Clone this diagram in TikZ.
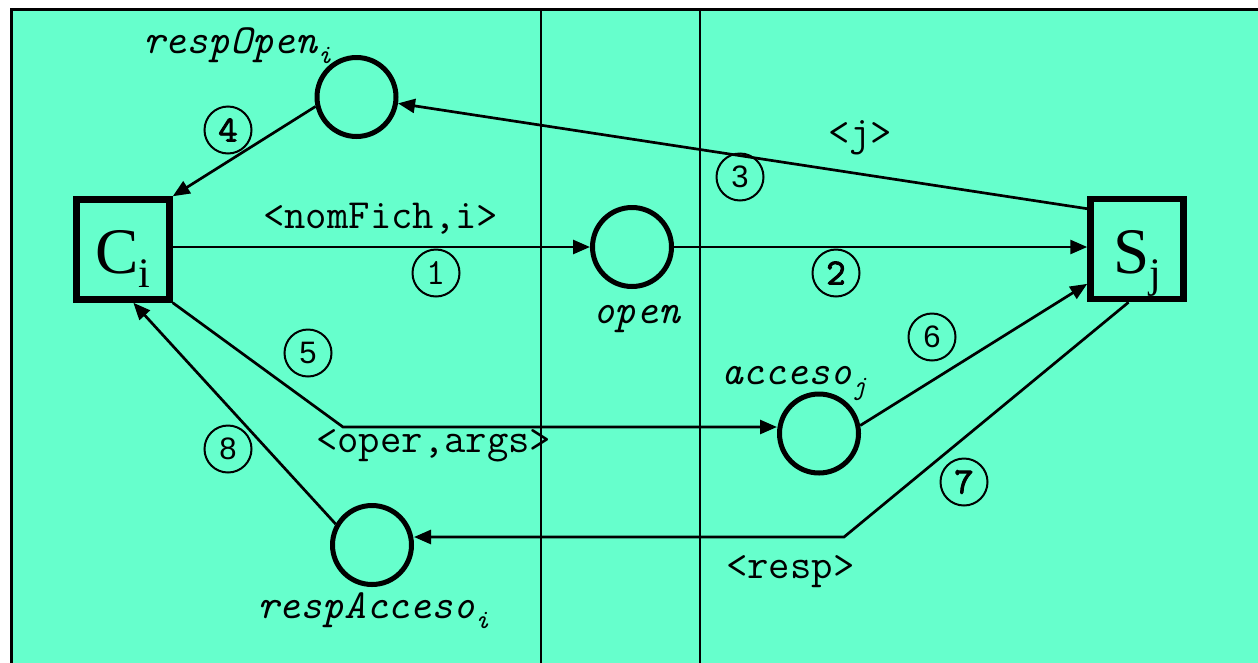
\documentclass[tikz,border=0pt]{standalone}
\usepackage{fontspec}
\setmainfont{Liberation Serif}
\newfontfamily\sansdigits{Liberation Sans}
\newfontfamily\heavymono[FakeBold=2.5]{lmmono10-regular.otf}
\usetikzlibrary{arrows.meta}

\definecolor{aqua}{RGB}{102,255,204}
\newcommand{\lowsub}[1]{\raisebox{-10pt}{\fontsize{27}{27}\selectfont #1}}
\newcommand{\bigsub}[1]{\raisebox{-14pt}{\fontsize{42}{42}\selectfont #1}}

\begin{document}
\begin{tikzpicture}[
		x=1pt, y=-1pt,
		place/.style={circle, draw, fill=aqua, line width=5pt, minimum size=79pt, inner sep=0pt},
		trans/.style={draw, line width=6.5pt, minimum width=93pt, minimum height=100pt, inner sep=0pt,
			text height=50pt, text depth=2pt, font=\fontsize{65}{65}\selectfont},
		stepmono/.style={circle, draw, line width=2pt, minimum size=47pt, inner sep=0pt,
			font=\heavymono\fontsize{37}{37}\selectfont},
		stepsans/.style={stepmono, font=\sansdigits\fontsize{31}{31}\selectfont},
		tag/.style={anchor=base west, inner sep=0pt, font=\ttfamily\fontsize{41.5}{41.5}\selectfont},
		placename/.style={tag, font=\ttfamily\itshape\fontsize{41.5}{41.5}\selectfont},
		arc/.style={line width=2.7pt, -{Triangle[length=17pt, width=14pt]}}
	]
	\useasboundingbox (0,0) rectangle (1258,662);
	\clip (0,0) rectangle (1258,662);

	\draw[fill=aqua, line width=3pt] (11.5,9.5) rectangle (1300,700);
	\draw[line width=2pt] (540.5,9.5) -- (540.5,700);
	\draw[line width=2pt] (700,9.5) -- (700,700);

	\node[placename] (lropen) at (143,53) {respOpen\lowsub{i}};
	\node[placename] (lopen) at (593,323) {open};
	\node[placename] (lacc) at (721,384) {acceso\lowsub{j}};
	\node[placename] (lracc) at (257,618) {respAcceso\lowsub{i}};

	\node[place] (ropen) at (356.5,97) {};
	\node[place] (open) at (632,247) {};
	\node[place] (acc) at (819,433.5) {};
	\node[place] (racc) at (372,545) {};

	\node[trans] (ci) at (123,249.5) {C\bigsub{i}};
	\node[trans] (sj) at (1137,249) {S\bigsub{j}};

	\node[tag] (tnom) at (263,228) {<nomFich,i>};
	\node[tag] (toper) at (316,452) {<oper,args>};
	\node[tag] (tresp) at (726,578) {<resp>};
	\node[tag] (tj) at (828,145) {<j>};

	\node[stepmono, font=\ttfamily\fontsize{37}{37}\selectfont] (n1) at (436,273) {1};
	\node[stepmono] (n2) at (836,273) {2};
	\node[stepsans] (n3) at (740,177) {3};
	\node[stepmono] (n4) at (228,130) {4};
	\node[stepsans] (n5) at (308,353) {5};
	\node[stepsans] (n6) at (932,337) {6};
	\node[stepmono] (n7) at (964,482) {7};
	\node[stepsans] (n8) at (228,449) {8};

	\coordinate (b5) at (343,427);
	\coordinate (b7) at (844,537);

	\draw[arc] (ci.east |- open) -- (open.west);
	\draw[arc] (open.east) -- (open.east -| sj.west);
	\draw[arc] (sj.141) -- (ropen);
	\draw[arc] (ropen.193) -- (ci.north east);
	\draw[arc] (ci.south east) -- (b5) -- (b5 -| acc.west);
	\draw[arc] (acc.11) -- (sj.215);
	\draw[arc] (sj.261) -- (b7) -- (b7 -| racc.east);
	\draw[arc] (racc.150) -- (ci.281);
\end{tikzpicture}
\end{document}
